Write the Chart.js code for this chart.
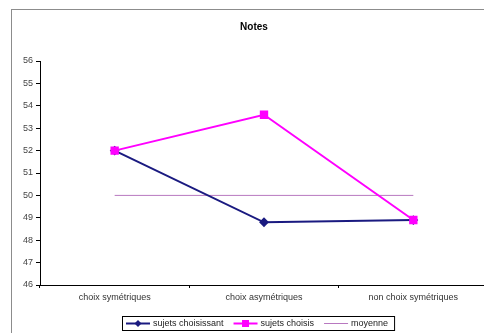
<!DOCTYPE html>
<html>
<head>
<meta charset="utf-8">
<script src="https://cdn.jsdelivr.net/npm/chart.js@4/dist/chart.umd.min.js"></script>
<style>
  html, body { margin: 0; padding: 0; background: #fff; overflow: hidden; }
  #wrap { position: absolute; left: 0; top: 0; width: 500px; height: 333px; }
  #frame { position: absolute; left: 11px; top: 9px; width: 500px; height: 340px; border: 1px solid #8c8c8c; }
  #notes { position: absolute; left: 0; top: 0; }
</style>
</head>
<body>
<div id="wrap">
  <div id="frame"></div>
  <canvas id="notes" width="500" height="333"></canvas>
</div>
<script>
const categories = ['choix symétriques', 'choix asymétriques', 'non choix symétriques'];
const sujetsChoisissant = [52.0, 48.8, 48.9];
const sujetsChoisis = [52.0, 53.6, 48.9];
const moyenne = [50, 50, 50];
const yMin = 46;
const yMax = 56;

const FONT = "'Liberation Sans', Arial, sans-serif";

// petit symbole ligne + marqueur pour la légende
function drawSymbol(ctx, x, y, ds) {
    ctx.save();
    ctx.strokeStyle = ds.borderColor;
    ctx.lineWidth = ds.borderWidth;
    ctx.beginPath();
    ctx.moveTo(x, y);
    ctx.lineTo(x + 24, y);
    ctx.stroke();
    if (ds.pointRadius > 0) {
        ctx.fillStyle = ds.pointBackgroundColor;
        const cx = x + 12;
        if (ds.pointStyle === 'rect') {
            ctx.fillRect(cx - 3.5, y - 3.5, 7, 7);
        } else {
            ctx.beginPath();
            ctx.moveTo(cx, y - 3.5);
            ctx.lineTo(cx + 3.5, y);
            ctx.lineTo(cx, y + 3.5);
            ctx.lineTo(cx - 3.5, y);
            ctx.closePath();
            ctx.fill();
        }
    }
    ctx.restore();
}

const boxedLegend = {
    id: 'boxedLegend',
    afterDraw(chart) {
        const ctx = chart.ctx;
        const sets = chart.data.datasets;
        ctx.save();
        ctx.font = '9px ' + FONT;
        const gap = 9;
        let widths = sets.map(ds => 26 + 2 + ctx.measureText(ds.label).width);
        let total = widths.reduce((a, b) => a + b, 0) + gap * (sets.length - 1) + 9;
        const left = 122, top = 316, h = 14;
        const cy = top + h / 2;
        ctx.strokeStyle = '#000';
        ctx.lineWidth = 1;
        ctx.strokeRect(left + 0.5, top + 0.5, total, h);
        let x = left + 4;
        sets.forEach((ds, i) => {
            drawSymbol(ctx, x, cy + 0.5, ds);
            ctx.fillStyle = '#222';
            ctx.textBaseline = 'middle';
            ctx.fillText(ds.label, x + 27, cy + 1);
            x += widths[i] + gap;
        });
        ctx.restore();
    }
};

new Chart(document.getElementById('notes'), {
    type: 'line',
    data: {
        labels: categories,
        datasets: [
            {
                label: 'sujets choisissant',
                data: sujetsChoisissant,
                order: 1,
                borderColor: '#1a1a80',
                backgroundColor: '#1a1a80',
                pointBackgroundColor: '#1a1a80',
                pointBorderColor: '#1a1a80',
                borderWidth: 2,
                pointStyle: 'rectRot',
                pointRadius: 3.5,
                tension: 0
            },
            {
                label: 'sujets choisis',
                data: sujetsChoisis,
                order: 0,
                borderColor: '#ff00ff',
                backgroundColor: '#ff00ff',
                pointBackgroundColor: '#ff00ff',
                pointBorderColor: '#ff00ff',
                borderWidth: 2,
                pointStyle: 'rect',
                pointRadius: 4.5,
                tension: 0
            },
            {
                label: 'moyenne',
                data: moyenne,
                order: 2,
                borderColor: '#b878c0',
                backgroundColor: '#b878c0',
                borderWidth: 1,
                pointRadius: 0,
                tension: 0
            }
        ]
    },
    options: {
        responsive: false,
        animation: false,
        layout: { padding: { left: 20, right: 12, top: 0, bottom: 28 } },
        plugins: {
            legend: { display: false },
            tooltip: { enabled: false },
            title: {
                display: true,
                text: 'Notes',
                color: '#000',
                font: { family: FONT, size: 10, weight: 'bold' },
                padding: { top: 21, bottom: 28 }
            }
        },
        scales: {
            x: {
                offset: true,
                afterFit: s => { s.height = 20; },
                grid: { drawOnChartArea: false, drawTicks: true, tickLength: 3, offset: true, color: '#000' },
                border: { color: '#000', width: 1 },
                ticks: { color: '#333', font: { family: FONT, size: 9 }, padding: 4, maxRotation: 0 }
            },
            y: {
                min: yMin,
                max: yMax,
                afterFit: s => { s.width = 20; },
                grid: { drawOnChartArea: false, drawTicks: true, tickLength: 4, color: '#000' },
                border: { color: '#000', width: 1 },
                ticks: { stepSize: 1, color: '#444', font: { family: FONT, size: 9 }, padding: 3 }
            }
        }
    },
    plugins: [boxedLegend]
});
</script>
</body>
</html>
